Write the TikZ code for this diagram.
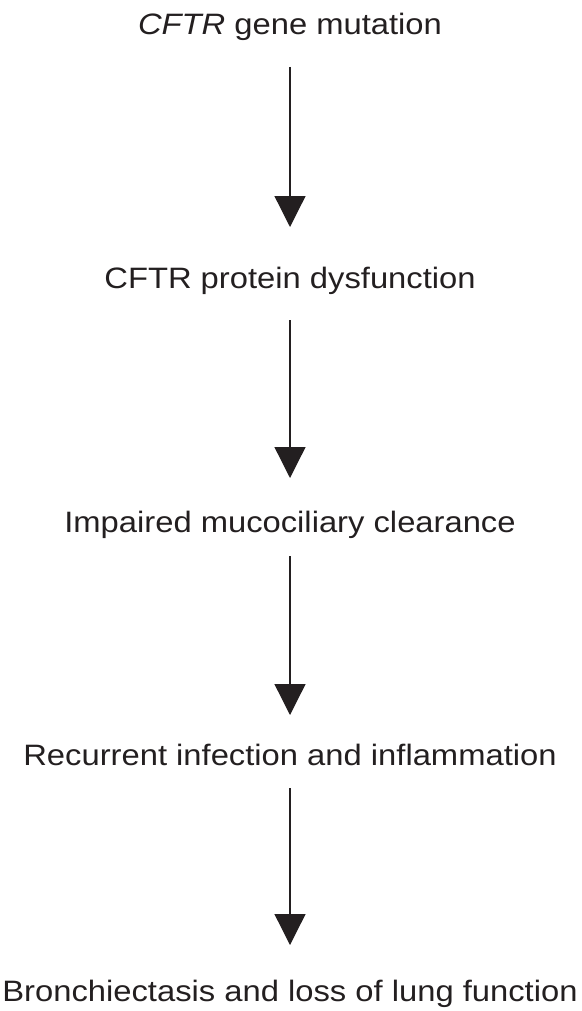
\documentclass[tikz,border=0pt]{standalone}
\usepackage{fontspec}
\setmainfont[FakeStretch=1.11]{Liberation Sans}
\usetikzlibrary{arrows.meta}
\definecolor{ink}{HTML}{231F20}
\begin{document}
\begin{tikzpicture}[x=1pt,y=1pt,
  lbl/.style={anchor=base,inner sep=0pt,text=ink,font=\fontsize{29.5}{34}\selectfont},
  flow/.style={draw=ink,line width=1.3pt,-{Triangle[width=31pt,length=31pt]}}]
\useasboundingbox (0,0) rectangle (581,-1011);
\node[lbl] (t1) at (290,-35) {\textit{CFTR} gene mutation};
\node[lbl] (t2) at (290,-288) {CFTR protein dysfunction};
\node[lbl] (t3) at (290,-532) {Impaired mucociliary clearance};
\node[lbl] (t4) at (290,-765) {Recurrent infection and inflammation};
\node[lbl] (t5) at (290,-1001) {Bronchiectasis and loss of lung function};
\draw[flow] ([yshift=-32pt]t1.base) -- ([yshift=61pt]t2.base);
\draw[flow] ([yshift=-32pt]t2.base) -- ([yshift=54pt]t3.base);
\draw[flow] ([yshift=-24pt]t3.base) -- ([yshift=50pt]t4.base);
\draw[flow] ([yshift=-23pt]t4.base) -- ([yshift=56pt]t5.base);
\end{tikzpicture}
\end{document}
